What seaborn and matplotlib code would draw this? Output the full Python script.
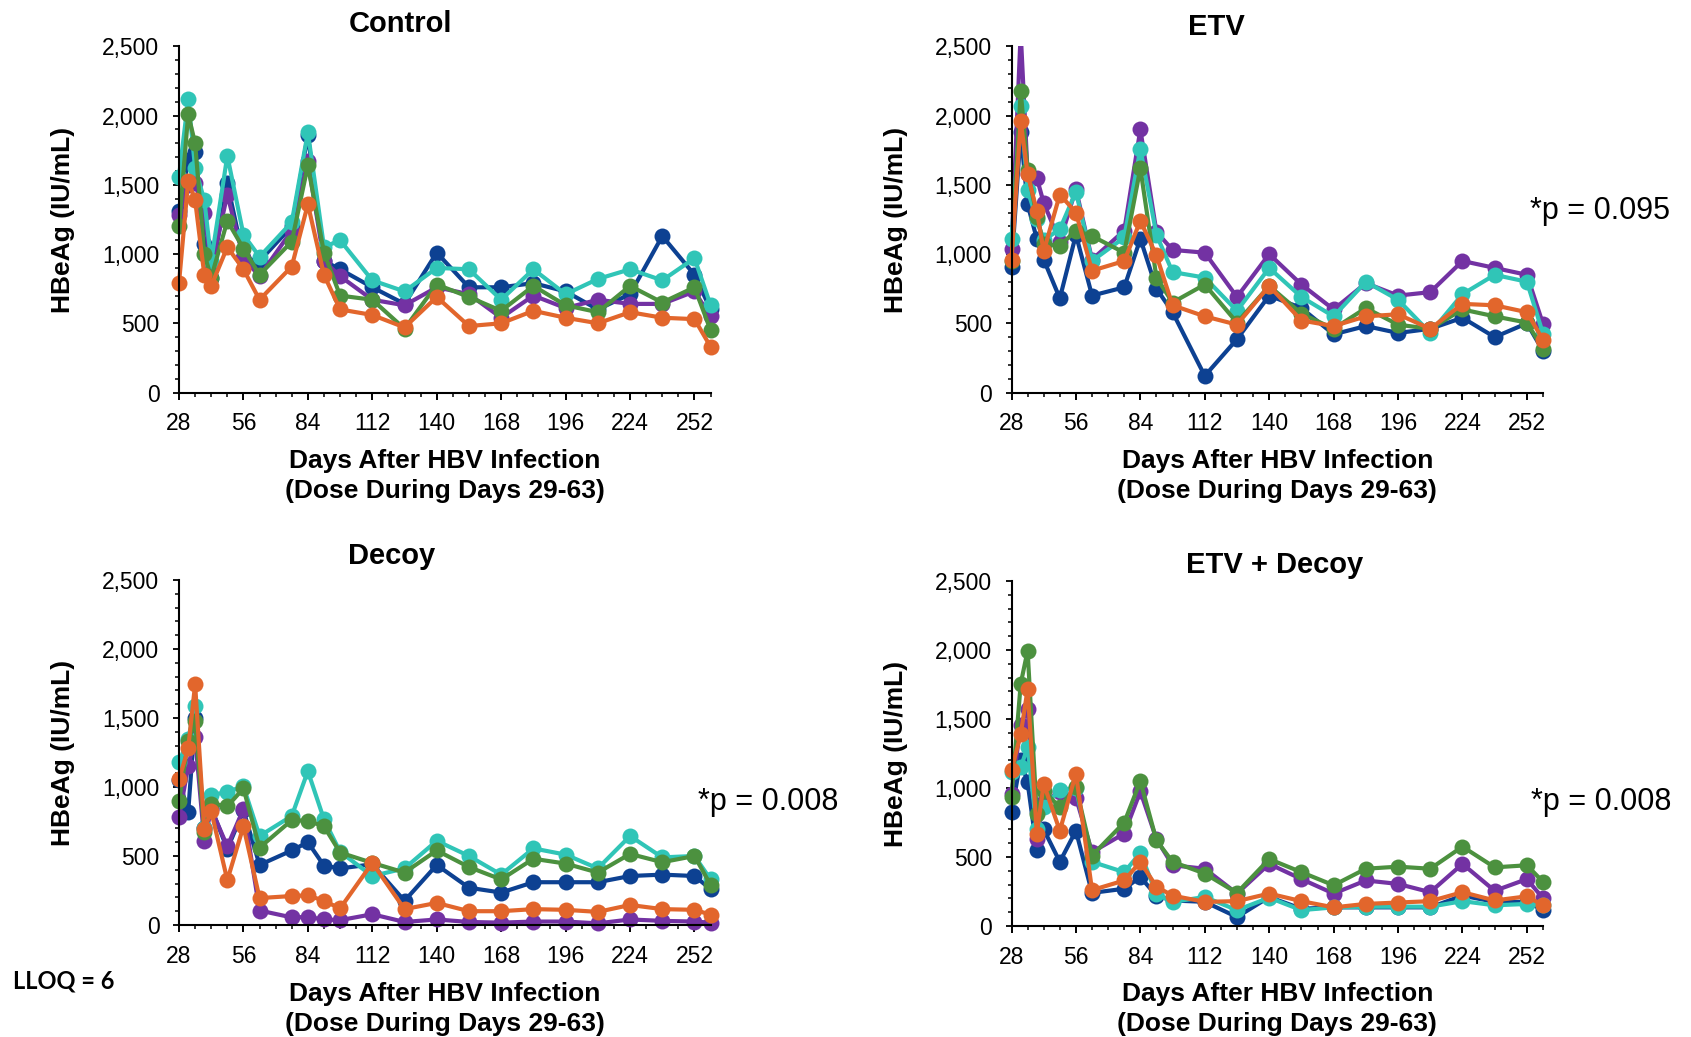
import numpy as np
import pandas as pd
import matplotlib
matplotlib.use("Agg")
import matplotlib.pyplot as plt
import seaborn as sns
from matplotlib.ticker import FixedLocator, FuncFormatter, MultipleLocator
from matplotlib.transforms import Bbox, TransformedBbox

# ---------------- data ----------------
days = [28, 32, 35, 39, 42, 49, 56, 63, 77, 84, 91, 98, 112, 126, 140,
        154, 168, 182, 196, 210, 224, 238, 252, 259]

animals = ["A1", "A2", "A3", "A4", "A5"]          # navy, purple, teal, green, orange
colors = ["#0D4192", "#7332A3", "#30C5B7", "#4C913F", "#E2662C"]

ctrl_navy = [1310, 1680, 1740, 1070, 830, 1510, 970, 950, 1200, 1860, 950, 890, 760, 640, 1010, 760, 760, 790, 730, 600, 710, 1130, 850, 600]
ctrl_purple = [1280, 1500, 1510, 1300, 900, 1430, 970, 840, 1170, 1670, 950, 840, 670, 630, 760, 710, 540, 700, 610, 670, 640, 640, 730, 550]
ctrl_teal = [1560, 2120, 1620, 1390, 950, 1710, 1140, 980, 1230, 1880, 1050, 1100, 810, 730, 900, 890, 670, 890, 710, 820, 890, 810, 970, 630]
ctrl_green = [1200, 2010, 1800, 1000, 830, 1240, 1040, 850, 1090, 1640, 1010, 700, 670, 460, 780, 690, 590, 770, 630, 580, 770, 650, 760, 450]
ctrl_orange = [790, 1530, 1390, 850, 770, 1050, 890, 670, 910, 1360, 850, 600, 560, 470, 690, 480, 500, 590, 540, 500, 580, 540, 530, 330]

etv_navy = [910, 1880, 1360, 1110, 960, 680, 1140, 700, 760, 1110, 750, 580, 120, 385, 700, 610, 420, 480, 430, 460, 540, 400, 500, 300]
etv_purple = [1040, 2600, 1580, 1550, 1370, 1090, 1470, 960, 1170, 1900, 1160, 1030, 1010, 690, 1000, 780, 600, 790, 700, 725, 950, 900, 850, 495]
etv_teal = [1110, 2070, 1460, 1250, 1100, 1180, 1450, 950, 1120, 1760, 1140, 870, 830, 590, 900, 690, 550, 800, 670, 430, 710, 850, 800, 425]
etv_green = [950, 2180, 1610, 1270, 1070, 1060, 1170, 1130, 1010, 1620, 830, 650, 780, 505, 770, 570, 460, 610, 490, 460, 600, 550, 505, 315]
etv_orange = [960, 1960, 1580, 1310, 1020, 1430, 1300, 880, 950, 1240, 990, 630, 550, 490, 770, 520, 480, 550, 565, 460, 640, 630, 580, 380]

dec_navy = [1050, 820, 1500, 700, 850, 550, 830, 435, 540, 600, 430, 410, 440, 175, 435, 270, 235, 310, 310, 310, 355, 365, 355, 260]
dec_purple = [780, 1150, 1360, 610, 840, 570, 840, 105, 55, 58, 40, 35, 78, 22, 40, 22, 17, 25, 25, 12, 40, 30, 25, 17]
dec_teal = [1180, 1345, 1590, 700, 940, 965, 1005, 645, 790, 1115, 765, 530, 355, 410, 610, 500, 365, 555, 510, 410, 645, 490, 500, 330]
dec_green = [895, 1335, 1475, 675, 880, 860, 990, 560, 760, 755, 715, 525, 450, 380, 540, 420, 330, 480, 445, 380, 515, 455, 500, 290]
dec_orange = [1055, 1280, 1745, 695, 825, 325, 715, 195, 210, 215, 175, 120, 450, 115, 160, 100, 100, 115, 110, 95, 145, 115, 110, 75]

ed_navy = [825, 1200, 1040, 550, 700, 465, 690, 240, 270, 355, 220, 185, 175, 65, 210, 125, 135, 135, 135, 135, 220, 175, 175, 115]
ed_purple = [955, 1460, 1570, 630, 900, 970, 930, 535, 670, 975, 630, 440, 415, 235, 450, 340, 235, 330, 305, 245, 450, 255, 340, 200]
ed_teal = [1115, 1150, 1295, 700, 865, 985, 1000, 465, 390, 530, 230, 175, 210, 115, 205, 115, 135, 140, 140, 140, 180, 150, 160, 150]
ed_green = [935, 1755, 1995, 810, 980, 860, 1010, 510, 750, 1050, 620, 465, 380, 240, 485, 390, 295, 415, 430, 415, 575, 425, 440, 320]
ed_orange = [1130, 1390, 1715, 670, 1030, 690, 1105, 260, 330, 465, 285, 220, 175, 180, 235, 180, 135, 160, 170, 180, 245, 185, 215, 150]

titles = ["Control", "ETV", "Decoy", "ETV + Decoy"]
pvalues = [None, "*p = 0.095", "*p = 0.008", "*p = 0.008"]
panel_series = [
    [ctrl_navy, ctrl_purple, ctrl_teal, ctrl_green, ctrl_orange],
    [etv_navy, etv_purple, etv_teal, etv_green, etv_orange],
    [dec_navy, dec_purple, dec_teal, dec_green, dec_orange],
    [ed_navy, ed_purple, ed_teal, ed_green, ed_orange],
]
x_major = [28, 56, 84, 112, 140, 168, 196, 224, 252]
y_major = [0, 500, 1000, 1500, 2000, 2500]

# ---------------- style ----------------
sns.set_theme(style="ticks")
plt.rcParams["font.family"] = ["Liberation Sans", "DejaVu Sans"]

W, H = 1691, 1037
fig = plt.figure(figsize=(W / 100, H / 100), dpi=100)


def fx(x):
    return x / W


def fy(y):
    return 1 - y / H


# axes rectangles in pixel coordinates: (x0, x1, ytop, ybottom)
rects = [(179, 710.6, 46.4, 392.5), (1011.5, 1543, 46.4, 392.5),
         (179, 710.6, 580, 925), (1011.5, 1543, 581, 926)]

title_pos = [(400, 31.7), (1216, 35.3), (391.5, 564.5), (1275, 573)]
pval_pos = [None, (1530, 219), (698, 810), (1531, 810)]

for i in range(4):
    x0, x1, yt, yb = rects[i]
    ax = fig.add_axes([fx(x0), fy(yb), (x1 - x0) / W, (yb - yt) / H])
    df = pd.DataFrame({
        "day": np.tile(days, len(animals)),
        "value": np.concatenate(panel_series[i]),
        "animal": np.repeat(animals, len(days)),
    })
    sns.lineplot(data=df, x="day", y="value", hue="animal", hue_order=animals,
                 palette=colors, marker="o", markersize=11.5, linewidth=3.0,
                 markeredgewidth=0, estimator=None, sort=False, legend=False, ax=ax)
    clip = TransformedBbox(Bbox([[-0.06, -0.06], [1.06, 1.0]]), ax.transAxes)
    for ln in ax.lines:
        ln.set_clip_box(clip)
        ln.set_solid_joinstyle("round")
        ln.set_markersize(11.5)
        ln.set_linewidth(3.0)

    ax.set_xlim(28, 259)
    ax.set_ylim(0, 2500)
    ax.xaxis.set_major_locator(FixedLocator(x_major))
    ax.xaxis.set_minor_locator(FixedLocator(list(range(28, 260, 7))))
    ax.yaxis.set_major_locator(FixedLocator(y_major))
    ax.yaxis.set_minor_locator(MultipleLocator(100))
    ax.yaxis.set_major_formatter(FuncFormatter(lambda v, p: f"{v:,.0f}"))
    ax.set_xlabel("")
    ax.set_ylabel("")
    ax.tick_params(axis="x", which="major", length=4.8, width=1.4, pad=9.5,
                   labelsize=16.5, colors="black", direction="out")
    ax.tick_params(axis="x", which="minor", length=3.2, width=1.1, direction="out", colors="black")
    ax.tick_params(axis="y", which="major", length=4.6, width=1.3, pad=9.5,
                   labelsize=16.5, colors="black", direction="out")
    ax.tick_params(axis="y", which="minor", length=3.0, width=1.1, direction="out", colors="black")
    for s in ["top", "right"]:
        ax.spines[s].set_visible(False)
    for s in ["left", "bottom"]:
        ax.spines[s].set_linewidth(1.5)
        ax.spines[s].set_color("black")
    ax.set_facecolor("none")

    # title
    tx, ty = title_pos[i]
    fig.text(fx(tx), fy(ty), titles[i], ha="center", va="baseline",
             fontsize=21, fontweight="bold", color="black")
    # axis labels
    cx = (x0 + x1) / 2
    base = 468 if i < 2 else 1001
    fig.text(fx(cx), fy(base), "Days After HBV Infection", ha="center", va="baseline",
             fontsize=19, fontweight="bold", color="black")
    fig.text(fx(cx), fy(base + 30), "(Dose During Days 29-63)", ha="center", va="baseline",
             fontsize=19, fontweight="bold", color="black")
    ylx = 63 if i % 2 == 0 else 896
    fig.text(fx(ylx), fy((yt + yb) / 2), "HBeAg (IU/mL)", ha="center", va="center",
             rotation=90, fontsize=19, fontweight="bold", color="black")
    if pvalues[i]:
        px, py = pval_pos[i]
        fig.text(fx(px), fy(py), pvalues[i], ha="left", va="baseline",
                 fontsize=22, color="black")

fig.text(fx(13), fy(988), "LLOQ = 6", ha="left", va="baseline",
         fontsize=17, fontweight="bold", family=["Lato", "DejaVu Sans"], color="black")

fig.savefig("out.png", dpi=100, facecolor="white")
